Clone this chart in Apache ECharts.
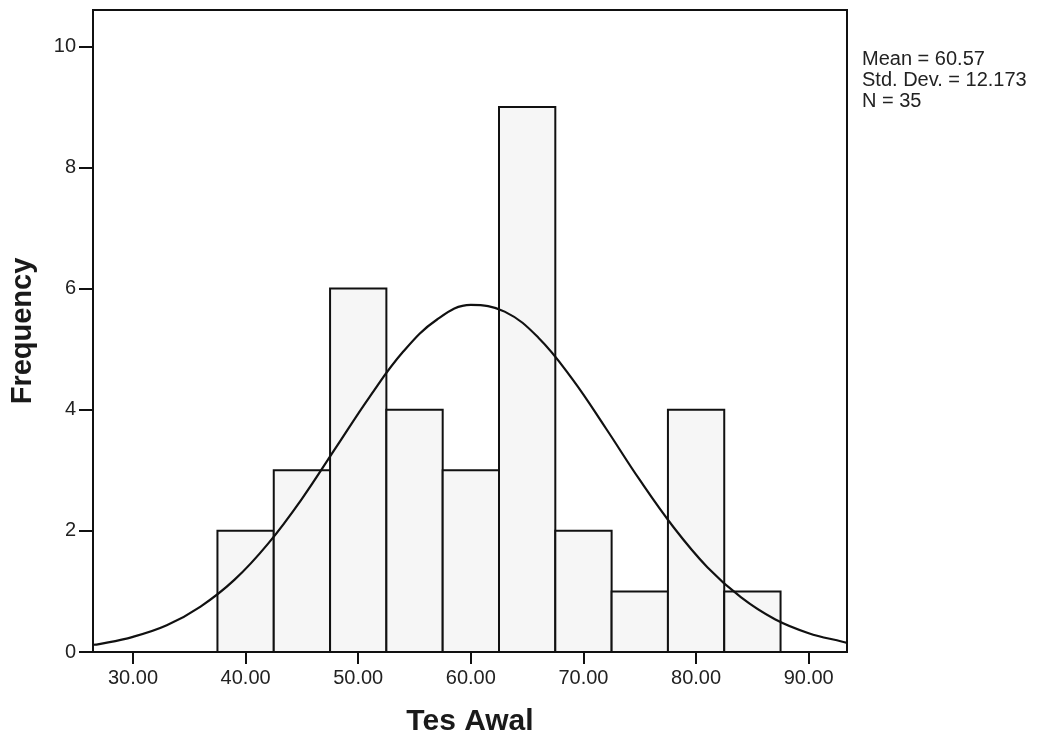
<!DOCTYPE html>
<html>
<head>
<meta charset="utf-8">
<script src="https://cdn.jsdelivr.net/npm/echarts@6/dist/echarts.min.js"></script>
<style>
html,body{margin:0;padding:0;background:#fff;}
#chart{width:1049px;height:737px;}
</style>
</head>
<body>
<div id="chart"></div>
<script>
// Histogram bins (lower edge, upper edge) and frequencies
const binStarts = [37.5, 42.5, 47.5, 52.5, 57.5, 62.5, 67.5, 72.5, 77.5, 82.5];
const binEnds   = [42.5, 47.5, 52.5, 57.5, 62.5, 67.5, 72.5, 77.5, 82.5, 87.5];
const frequencies = [2, 3, 6, 4, 3, 9, 2, 1, 4, 1];

// Normal curve points (x, frequency)
const curveX = [26.45, 27, 30, 33, 36, 39, 42, 45, 48, 51, 54, 57, 60, 63, 66, 69, 72, 75, 78, 81, 84, 87, 90, 93, 93.4];
const curveY = [0.12, 0.13, 0.25, 0.44, 0.75, 1.19, 1.79, 2.53, 3.37, 4.21, 4.96, 5.49, 5.73, 5.62, 5.19, 4.51, 3.69, 2.84, 2.06, 1.40, 0.90, 0.54, 0.31, 0.17, 0.15];

const xTicks = [30, 40, 50, 60, 70, 80, 90];
const yTicks = [0, 2, 4, 6, 8, 10];
const statsLines = ['Mean = 60.57', 'Std. Dev. = 12.173', 'N = 35'];
const xTitle = 'Tes Awal';
const yTitle = 'Frequency';

const chart = echarts.init(document.getElementById('chart'), null, {renderer: 'canvas'});

const barData = binStarts.map((s, i) => [s, binEnds[i], frequencies[i]]);
const curveData = curveX.map((x, i) => [x, curveY[i]]);

const font = 'Arial, "Liberation Sans", sans-serif';

chart.setOption({
  animation: false,
  backgroundColor: '#ffffff',
  grid: {
    left: 93, right: 202, top: 10, bottom: 85,
    outerBoundsMode: 'none', containLabel: false,
    show: true, borderColor: '#111', borderWidth: 2, backgroundColor: 'transparent'
  },
  xAxis: {
    type: 'value', min: 26.45, max: 93.4,
    splitLine: {show: false},
    axisLine: {show: true, onZero: false, lineStyle: {color: '#111', width: 2}},
    axisTick: {show: true, customValues: xTicks, length: 12, lineStyle: {color: '#111', width: 2}},
    axisLabel: {
      customValues: xTicks, margin: 16, color: '#222', fontSize: 20, fontFamily: font,
      formatter: v => Number(v).toFixed(2)
    },
    name: xTitle, nameLocation: 'middle', nameGap: 55,
    nameTextStyle: {fontSize: 30, fontWeight: 'bold', color: '#1a1a1a', fontFamily: font}
  },
  yAxis: {
    type: 'value', min: 0, max: 10.6,
    splitLine: {show: false},
    axisLine: {show: true, lineStyle: {color: '#111', width: 2}},
    axisTick: {show: true, customValues: yTicks, length: 14, lineStyle: {color: '#111', width: 2}},
    axisLabel: {customValues: yTicks, margin: 17, color: '#222', fontSize: 20, fontFamily: font},
    name: yTitle, nameLocation: 'middle', nameGap: 56, nameRotate: 90,
    nameTextStyle: {fontSize: 29, fontWeight: 'bold', color: '#1a1a1a', fontFamily: font}
  },
  series: [
    {
      type: 'custom',
      data: barData,
      encode: {x: [0, 1], y: 2},
      renderItem: function (params, api) {
        const p0 = api.coord([api.value(0), 0]);
        const p1 = api.coord([api.value(1), api.value(2)]);
        return {
          type: 'rect',
          shape: {x: p0[0], y: p1[1], width: p1[0] - p0[0], height: p0[1] - p1[1]},
          style: {fill: '#f6f6f6', stroke: '#111', lineWidth: 2}
        };
      },
      z: 2
    },
    {
      type: 'line',
      data: curveData,
      smooth: 0.4,
      showSymbol: false,
      lineStyle: {color: '#111', width: 2.2},
      z: 3
    }
  ],
  graphic: [{
    type: 'text',
    left: 862, top: 49,
    style: {
      text: statsLines.join('\n'),
      font: '20px Arial, "Liberation Sans", sans-serif',
      fill: '#222', lineHeight: 21
    }
  }]
});
</script>
</body>
</html>
